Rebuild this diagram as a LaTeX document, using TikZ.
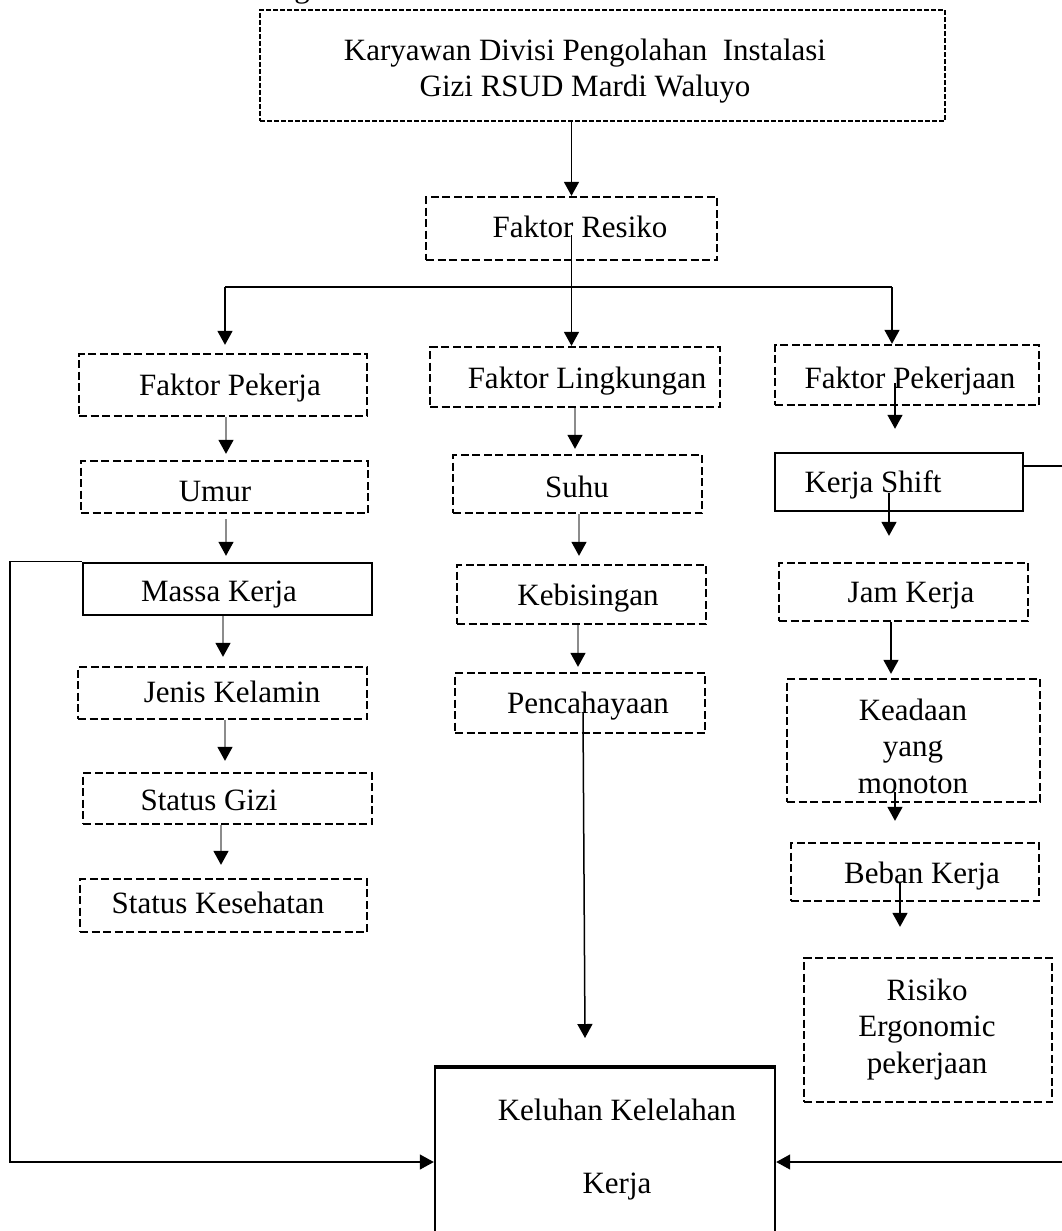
\documentclass[tikz,border=0pt]{standalone}
\usepackage{fontspec}
\setmainfont{Liberation Serif}
\usetikzlibrary{arrows.meta}
\newcommand\tnr{\fontsize{31}{36.5}\selectfont}
\newcommand\mlines[1]{\begin{tabular}[t]{@{}c@{}}#1\end{tabular}}
\tikzset{
  dbox/.style={draw, line width=2.3pt, dash pattern=on 8pt off 3.5pt, inner sep=0pt},
  fbox/.style={draw, line width=1.8pt, dash pattern=on 5pt off 2pt, inner sep=0pt},
  sbox/.style={draw, line width=2.4pt, inner sep=0pt},
  txt/.style={font=\tnr, inner sep=0pt, anchor=base},
  tip/.style={-{Triangle[length=14pt,width=15pt,color=black]}},
  arr/.style={tip, line width=1.5pt, black},
  garr/.style={tip, line width=1.4pt, draw=black!45},
  plain/.style={line width=1.4pt, black}
}
\begin{document}
\begin{tikzpicture}[x=1pt,y=-1pt]
\useasboundingbox (0,0) rectangle (1061,1231);
\fill[white] (0,0) rectangle (1061,1231);

% fragment of a heading cut off at the top
\node[txt] (frag) at (302,-2) {g};

% boxes
\node[fbox, minimum width=685pt, minimum height=111pt] (top) at (602.5,65.5) {};
\node[dbox, minimum width=291pt, minimum height=63pt] (fr) at (571.5,228.5) {};
\node[dbox, minimum width=288pt, minimum height=62pt] (fpw) at (223,385) {};
\node[dbox, minimum width=290pt, minimum height=60pt] (fl) at (575,377) {};
\node[dbox, minimum width=264pt, minimum height=60pt] (fpn) at (907,375) {};
\node[dbox, minimum width=287pt, minimum height=52pt] (umur) at (224.5,487) {};
\node[sbox, minimum width=289pt, minimum height=52pt] (massa) at (227.5,589) {};
\node[dbox, minimum width=289pt, minimum height=52pt] (jenis) at (222.5,693) {};
\node[dbox, minimum width=289pt, minimum height=51pt] (sg) at (227.5,798.5) {};
\node[dbox, minimum width=287pt, minimum height=53pt] (sk) at (223.5,905.5) {};
\node[dbox, minimum width=249pt, minimum height=58pt] (suhu) at (577.5,484) {};
\node[dbox, minimum width=249pt, minimum height=59pt] (keb) at (581.5,594.5) {};
\node[dbox, minimum width=250pt, minimum height=60pt] (pen) at (580,703) {};
\node[sbox, minimum width=248pt, minimum height=58pt] (ks) at (899,482) {};
\node[dbox, minimum width=249pt, minimum height=58pt] (jam) at (903.5,592) {};
\node[dbox, minimum width=253pt, minimum height=123pt] (kea) at (913.5,740.5) {};
\node[dbox, minimum width=248pt, minimum height=58pt] (beb) at (915,872) {};
\node[dbox, minimum width=248pt, minimum height=144pt] (ris) at (928,1030) {};
\node[sbox, minimum width=340pt, minimum height=188pt] (kel) at (605,1162) {};
\draw[line width=3.2pt] (kel.north west) -- (kel.north east);

% texts
\node[txt] (t-top) at (585,60) {\mlines{Karyawan Divisi Pengolahan\ \ Instalasi\\Gizi RSUD Mardi Waluyo}};
\node[txt] (t-fr) at (580,237) {Faktor Resiko};
\node[txt] (t-fpw) at (230,395) {Faktor Pekerja};
\node[txt] (t-fl) at (587,388) {Faktor Lingkungan};
\node[txt] (t-fpn) at (910,388) {Faktor Pekerjaan};
\node[txt] (t-umur) at (215,501) {Umur};
\node[txt] (t-massa) at (219,601) {Massa Kerja};
\node[txt] (t-jenis) at (232,702) {Jenis Kelamin};
\node[txt] (t-sg) at (209,810) {Status Gizi};
\node[txt] (t-sk) at (218,913) {Status Kesehatan};
\node[txt] (t-suhu) at (577,497) {Suhu};
\node[txt] (t-keb) at (588,605) {Kebisingan};
\node[txt] (t-pen) at (588,713) {Pencahayaan};
\node[txt] (t-ks) at (873,492) {Kerja Shift};
\node[txt] (t-jam) at (911,602) {Jam Kerja};
\node[txt] (t-kea) at (913,720) {\mlines{Keadaan\\yang\\monoton}};
\node[txt] (t-beb) at (922,883) {Beban Kerja};
\node[txt] (t-ris) at (927,1000) {\mlines{Risiko\\Ergonomic\\pekerjaan}};
\node[txt] (t-kel) at (617,1120) {\mlines{Keluhan Kelelahan\\[36.5pt]Kerja}};

% top to Faktor Resiko
\draw[arr] (fr.north |- top.south) -- (fr.north);
% Faktor Resiko to the three factors
\draw[arr] ([yshift=-6.5pt]fr.center) -- (fr.center |- fl.north);
\coordinate (bl) at (225,287);
\coordinate (brr) at (892,287);
\draw[plain] (bl) -- (brr);
\draw[arr, shorten >=8pt] (bl) -- (bl |- fpw.north);
\draw[arr] (brr) -- (brr |- fpn.north);

% left column
\draw[garr, shorten >=6pt] ([xshift=3pt]fpw.south) -- ([xshift=3pt]fpw.south |- umur.north);
\draw[garr, shorten <=5pt, shorten >=6pt] ([xshift=1.5pt]umur.south) -- ([xshift=1.5pt]umur.south |- massa.north);
\draw[garr, shorten >=9pt] ([xshift=-4.5pt]massa.south) -- ([xshift=-4.5pt]massa.south |- jenis.north);
\draw[garr, shorten >=11pt] ([xshift=2.5pt]jenis.south) -- ([xshift=2.5pt]jenis.south |- sg.north);
\draw[garr, shorten >=13pt] ([xshift=-6.5pt]sg.south) -- ([xshift=-6.5pt]sg.south |- sk.north);

% middle column
\draw[garr, shorten >=5pt] (fl.south) -- (fl.south |- suhu.north);
\draw[garr, shorten >=8pt] ([xshift=1.5pt]suhu.south) -- ([xshift=1.5pt]suhu.south |- keb.north);
\draw[garr, shorten >=5pt] ([xshift=-3.5pt]keb.south) -- ([xshift=-3.5pt]keb.south |- pen.north);
\coordinate (kin) at (585,1038);
\draw[arr] ([xshift=3pt,yshift=-10pt]pen.center) -- (kin);

% right column
\draw[arr, shorten >=23pt] ([xshift=-12pt,yshift=-8pt]fpn.center) -- ([xshift=-12pt]fpn.center |- ks.north);
\draw[arr, shorten >=26pt] ([xshift=-10pt,yshift=-11pt]ks.center) -- ([xshift=-10pt]ks.center |- jam.north);
\draw[arr, shorten >=4pt] ([xshift=-12.5pt]jam.south) -- ([xshift=-12.5pt]jam.south |- kea.north);
\draw[arr, shorten >=21pt] ([xshift=-18.5pt,yshift=-51.5pt]kea.center) -- ([xshift=-18.5pt]kea.center |- beb.north);
\draw[arr, shorten >=30pt] ([xshift=-15pt,yshift=-11pt]beb.center) -- ([xshift=-15pt]beb.center |- ris.north);

% feedback lines into Keluhan Kelelahan Kerja
\coordinate (lc) at (10,0);
\draw[arr, line width=1.3pt] (massa.north west) -- (massa.north west -| lc) -- (lc |- kel.west) -- (kel.west);
\coordinate (rc) at (1075,466);
\draw[arr, line width=1.3pt] (ks.east |- rc) -- (rc) -- (rc |- kel.east) -- (kel.east);
\end{tikzpicture}
\end{document}
